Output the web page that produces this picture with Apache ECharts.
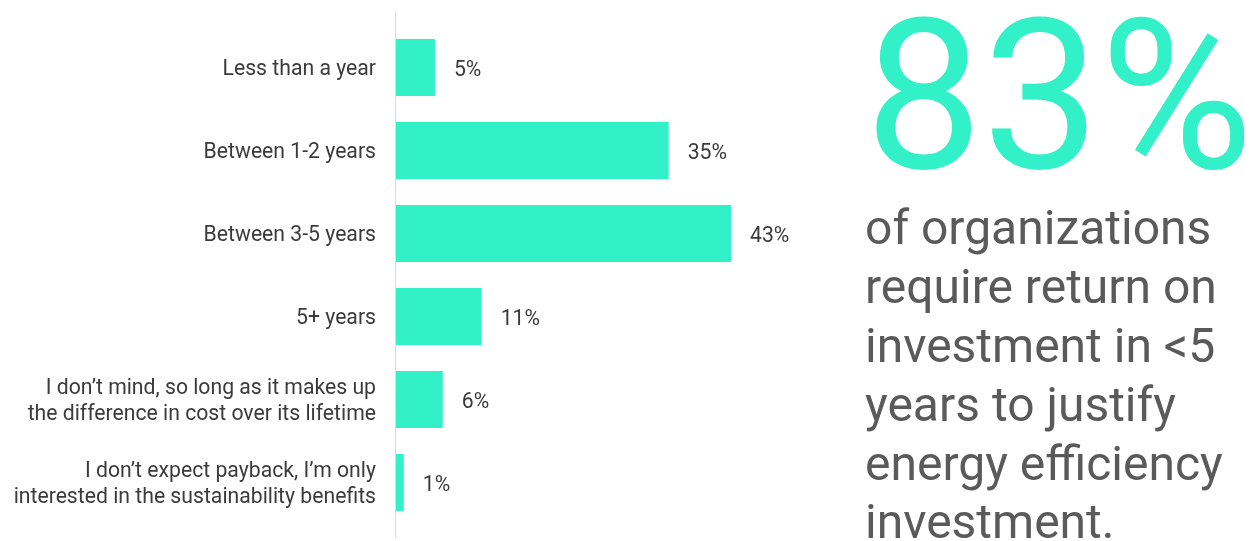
<!DOCTYPE html>
<html>
<head>
<meta charset="utf-8">
<script src="https://cdn.jsdelivr.net/npm/echarts@6/dist/echarts.min.js"></script>
<style>
html,body{margin:0;padding:0;background:#fff;}
#c{width:1258px;height:541px;}
</style>
</head>
<body>
<div id="c"></div>
<script>
const categories = [
  "Less than a year",
  "Between 1-2 years",
  "Between 3-5 years",
  "5+ years",
  "I don\u2019t mind, so long as it makes up\nthe difference in cost over its lifetime",
  "I don\u2019t expect payback, I\u2019m only\ninterested in the sustainability benefits"
];
const values = [5, 35, 43, 11, 6, 1];
const headline = "83%";
const statement = "of organizations\nrequire return on\ninvestment in <5\nyears to justify\nenergy efficiency\ninvestment.";

const chart = echarts.init(document.getElementById('c'));
chart.setOption({
  backgroundColor: '#ffffff',
  animation: false,
  textStyle: { fontFamily: 'Roboto' },
  grid: { left: 396, top: 26, width: 779, bottom: 17, containLabel: false },
  xAxis: {
    type: 'value', min: 0, max: 100, show: false
  },
  yAxis: {
    type: 'category',
    data: categories,
    inverse: true,
    axisLine: { show: false },
    axisTick: { show: false },
    splitLine: { show: false },
    axisLabel: {
      margin: 20,
      align: 'right',
      formatter: function (v) {
        return v.split('\n').map(function (s) { return '{a|' + s + '}'; }).join('\n');
      },
      rich: {
        a: {
          fontFamily: 'Roboto',
          fontSize: 21.2,
          lineHeight: 26,
          color: '#3b3b3b',
          padding: [5, 0, 0, 0]
        }
      }
    }
  },
  series: [{
    type: 'bar',
    data: values,
    barWidth: 57,
    itemStyle: { color: '#32F0C8' },
    label: {
      show: true,
      position: 'right',
      distance: 19,
      offset: [0, 3],
      formatter: '{c}%',
      fontFamily: 'Roboto',
      fontSize: 21.2,
      color: '#3b3b3b'
    }
  }],
  graphic: [
    {
      type: 'line',
      shape: { x1: 395.5, y1: 11, x2: 395.5, y2: 538 },
      style: { stroke: '#dddddd', lineWidth: 1 },
      z: 1
    },
    {
      type: 'text',
      left: 865,
      top: 11,
      style: {
        text: headline,
        fontFamily: 'Roboto',
        fontSize: 209,
        fill: '#32F0C8'
      }
    },
    {
      type: 'text',
      left: 865,
      top: 203,
      style: {
        text: statement,
        fontFamily: 'Roboto',
        fontSize: 48,
        lineHeight: 58.8,
        fill: '#5a5a5a'
      }
    }
  ]
});
</script>
</body>
</html>
